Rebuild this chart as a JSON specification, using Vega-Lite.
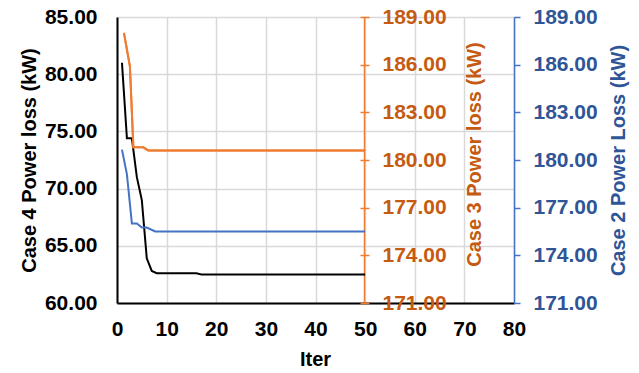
{
  "$schema": "https://vega.github.io/schema/vega-lite/v6.json",
  "width": 397,
  "height": 286,
  "autosize": {"type": "none"},
  "padding": {"left": 117, "top": 17, "right": 125, "bottom": 70},
  "background": "white",
  "config": {
    "view": {"stroke": null},
    "font": "Liberation Sans",
    "axis": {"labelFont": "Liberation Sans", "titleFont": "Liberation Sans", "labelFontSize": 21, "titleFontSize": 20, "labelFontWeight": "bold", "titleFontWeight": "bold"}
  },
  "datasets": {
    "case4": [
      {"iter": 1, "loss": 81.0},
      {"iter": 2, "loss": 74.4},
      {"iter": 3, "loss": 74.4},
      {"iter": 4, "loss": 71.0},
      {"iter": 5, "loss": 69.0},
      {"iter": 6, "loss": 63.9},
      {"iter": 7, "loss": 62.8},
      {"iter": 8, "loss": 62.6},
      {"iter": 16, "loss": 62.6},
      {"iter": 17, "loss": 62.5},
      {"iter": 50, "loss": 62.5}
    ],
    "case3": [
      {"iter": 1.4, "loss": 188.0},
      {"iter": 2.6, "loss": 185.9},
      {"iter": 3.3, "loss": 180.8},
      {"iter": 5.3, "loss": 180.8},
      {"iter": 6.3, "loss": 180.6},
      {"iter": 50, "loss": 180.6}
    ],
    "case2": [
      {"iter": 1, "loss": 180.65},
      {"iter": 2, "loss": 179.1},
      {"iter": 3, "loss": 176.0},
      {"iter": 4, "loss": 176.0},
      {"iter": 5, "loss": 175.75},
      {"iter": 6, "loss": 175.75},
      {"iter": 7.7, "loss": 175.5},
      {"iter": 50, "loss": 175.5}
    ]
  },
  "encoding": {
    "x": {
      "field": "iter", "type": "quantitative",
      "scale": {"domain": [0, 80], "nice": false, "zero": false},
      "axis": {
        "values": [0, 10, 20, 30, 40, 50, 60, 70, 80],
        "title": "Iter", "titleX": 198, "titleY": 56, "titleBaseline": "middle", "titleColor": "black",
        "labelColor": "black", "labelPadding": 15, "ticks": false, "tickSize": 0,
        "domainColor": "black", "domainWidth": 2,
        "grid": true, "gridColor": "#D9D9D9", "gridWidth": 1.5,
        "labelFlush": false
      }
    }
  },
  "layer": [
    {
      "data": {"name": "case4"},
      "mark": {"type": "line", "color": "black", "strokeWidth": 2},
      "encoding": {
        "y": {
          "field": "loss", "type": "quantitative",
          "scale": {"domain": [60, 85], "nice": false, "zero": false},
          "axis": {
            "orient": "left", "values": [60, 65, 70, 75, 80, 85], "format": ".2f",
            "title": "Case  4 Power loss (kW)", "titleX": -88, "titleY": 143, "titleAngle": -90, "titleBaseline": "middle", "titleColor": "black",
            "labelColor": "black", "labelPadding": 20, "ticks": false, "tickSize": 0,
            "domainColor": "black", "domainWidth": 2,
            "grid": true, "gridColor": "#D9D9D9", "gridWidth": 1.5
          }
        }
      }
    },
    {
      "data": {"name": "case3"},
      "mark": {"type": "line", "color": "#ED7D31", "strokeWidth": 2},
      "encoding": {
        "y": {
          "field": "loss", "type": "quantitative",
          "scale": {"domain": [171, 189], "nice": false, "zero": false},
          "axis": {
            "orient": "right", "offset": -150, "values": [171, 174, 177, 180, 183, 186, 189], "format": ".2f",
            "title": "Case 3 Power loss (kW)", "titleX": 110, "titleY": 137, "titleAngle": -90, "titleBaseline": "middle", "titleColor": "#C55A11",
            "labelColor": "#C55A11", "labelPadding": 13, "ticks": true, "tickSize": 5, "tickColor": "#ED7D31", "tickWidth": 1.5,
            "domainColor": "#ED7D31", "domainWidth": 1.5, "grid": false
          }
        }
      }
    },
    {
      "data": {"name": "case2"},
      "mark": {"type": "line", "color": "#4472C4", "strokeWidth": 2},
      "encoding": {
        "y": {
          "field": "loss", "type": "quantitative",
          "scale": {"domain": [171, 189], "nice": false, "zero": false},
          "axis": {
            "orient": "right", "values": [171, 174, 177, 180, 183, 186, 189], "format": ".2f",
            "title": "Case 2 Power Loss (kW)", "titleX": 104, "titleY": 143, "titleAngle": -90, "titleBaseline": "middle", "titleColor": "#2F5597",
            "labelColor": "#2F5597", "labelPadding": 13, "ticks": true, "tickSize": 6, "tickColor": "#4472C4", "tickWidth": 1.5,
            "domainColor": "#4472C4", "domainWidth": 1.5, "grid": false
          }
        }
      }
    },
    {
      "data": {"name": "case3"},
      "mark": {"type": "line", "color": "#ED7D31", "strokeWidth": 2},
      "encoding": {
        "y": {
          "field": "loss", "type": "quantitative",
          "scale": {"domain": [171, 189], "nice": false, "zero": false},
          "axis": {
            "orient": "left", "offset": -248, "values": [171, 174, 177, 180, 183, 186, 189],
            "title": null, "labels": false, "domain": false,
            "ticks": true, "tickSize": 5, "tickColor": "#ED7D31", "tickWidth": 1.5, "grid": false
          }
        }
      }
    }
  ],
  "resolve": {"scale": {"y": "independent"}}
}
